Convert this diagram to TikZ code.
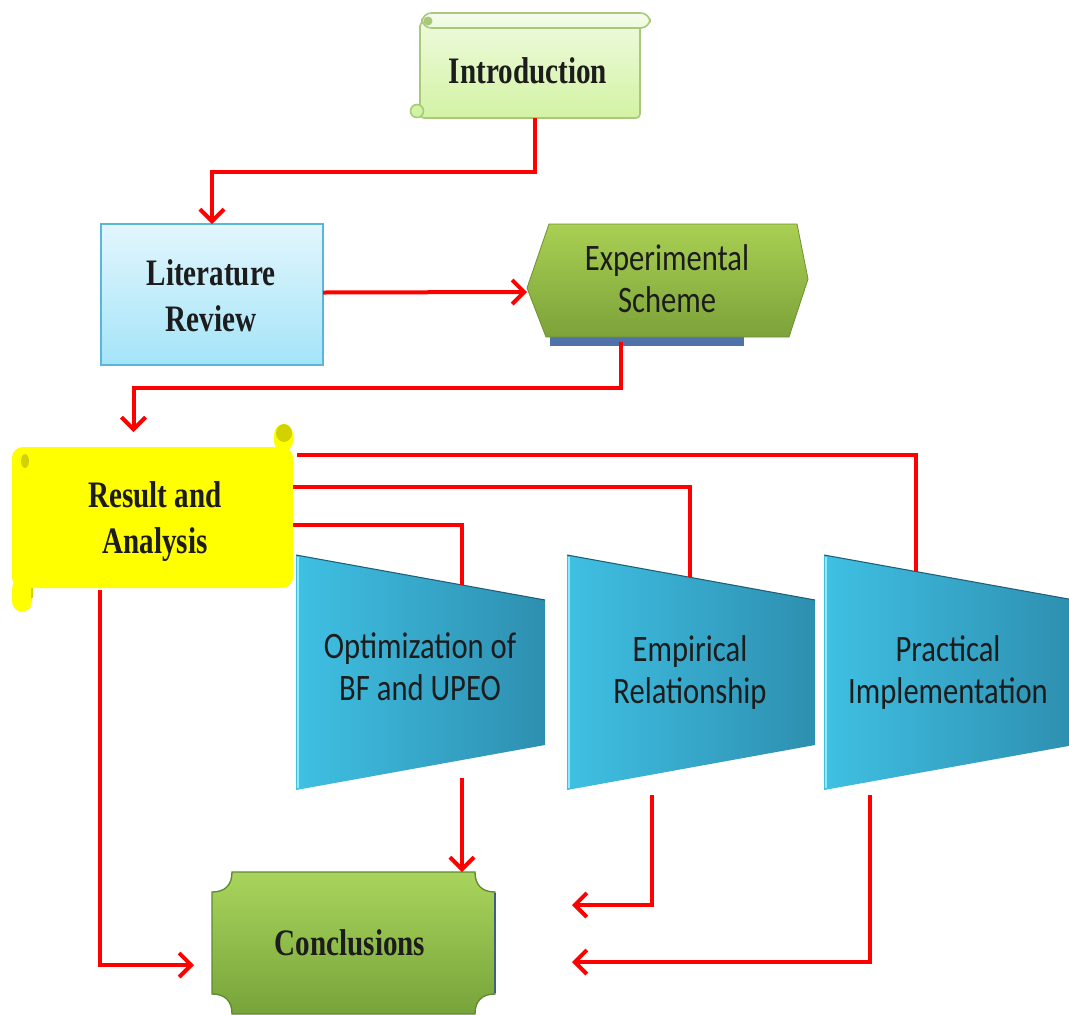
\documentclass[tikz,border=0pt]{standalone}
\usepackage{fontspec}
\usepackage{graphicx}
\usetikzlibrary{arrows.meta,calc,fit}
\newfontfamily\serfont{Liberation Serif}
\newfontfamily\sanfont{Carlito}
\newcommand\stxt[2]{\scalebox{#1}[1]{\begin{tabular}{@{}c@{}}#2\end{tabular}}}
\definecolor{txt}{HTML}{1C1C1C}
\definecolor{inT}{HTML}{EDFADB}
\definecolor{inB}{HTML}{D3F3A4}
\definecolor{inD}{HTML}{A9C97A}
\definecolor{ltT}{HTML}{E2F6FD}
\definecolor{ltB}{HTML}{A4E4F8}
\definecolor{ltD}{HTML}{5AB6D9}
\definecolor{exT}{HTML}{A9D052}
\definecolor{exB}{HTML}{7CA23A}
\definecolor{exD}{HTML}{6E8F33}
\definecolor{exS}{HTML}{4F72A8}
\definecolor{resY}{HTML}{FFFF00}
\definecolor{resD}{HTML}{D2D200}
\definecolor{trL}{HTML}{3FC0E3}
\definecolor{trR}{HTML}{2E8FB0}
\definecolor{trHi}{HTML}{8FE9FF}
\definecolor{trDk}{HTML}{1F5F75}
\definecolor{coT}{HTML}{A9D45C}
\definecolor{coB}{HTML}{77A43A}
\definecolor{coD}{HTML}{5F8A30}
\definecolor{coE}{HTML}{3F5F80}
\begin{document}
\begin{tikzpicture}[x=0.75pt,y=-0.75pt,
  box/.style={inner sep=0pt,outer sep=0pt},
  sert/.style={font=\serfont\bfseries\fontsize{28}{35}\selectfont,text=txt,inner sep=0pt},
  sant/.style={font=\sanfont\fontsize{28}{31.5}\selectfont,text=txt,inner sep=0pt},
  link/.style={draw=red,line width=3pt,line join=miter},
  arr/.style={link,-{Straight Barb[length=9pt,width=18pt]}},
  trap/.style={left color=trL,right color=trR}]
\path[use as bounding box,clip] (0,0) rectangle (1069,1014);
\fill[white] (0,0) rectangle (1069,1014);

% ---- layout nodes
\node[box,fit={(420,13)(650,118)}] (intro) {};
\node[box,fit={(101,224)(323,365)}] (lit) {};
\node[box,fit={(527,224)(808,342)}] (exp) {};
\node[box,fit={(12,432)(293,610)}] (res) {};
\node[box,fit={(296,555)(545,790)}] (trA) {};
\node[box,fit={(567,555)(815,790)}] (trB) {};
\node[box,fit={(824,555)(1069,790)}] (trC) {};
\node[box,fit={(212,872)(495,1014)}] (concl) {};

% ---- Introduction scroll
\shade[top color=inT,bottom color=inB,draw=inD,line width=1.2pt,rounded corners=3] (420,22) rectangle (640,118);
\shade[top color=white!50!inT,bottom color=inT,draw=inD,line width=1.2pt,rounded corners=7] (422,13) rectangle (650,28);
\fill[inD] (428,21) circle (4.5);
\filldraw[fill=inB,draw=inD,line width=1.2pt] (417,111) circle (6.5);

% ---- Literature Review
\shade[top color=ltT,bottom color=ltB,draw=ltD,line width=1.2pt] (101,224) rectangle (323,365);

% ---- Experimental Scheme
\fill[exS] (550,328) rectangle (744,346);
\shade[top color=exT,bottom color=exB,draw=exD,line width=0.6pt] (527,288) -- (549,224) -- (797,224) -- (808,279) -- (789,337) -- (546,337) -- cycle;

% ---- Result and Analysis scroll
\fill[resY,rounded corners=8] (12,447) rectangle (293,588);
\fill[resY,rounded corners=8] (274,424) rectangle (293,452);
\fill[resD] (284,433) ellipse (8 and 9);
\fill[resY,rounded corners=8] (12,578) rectangle (32,612);
\draw[resD,line width=1pt] (32,588) -- (32,598);
\fill[resD] (25,461) ellipse (4 and 7);

% ---- trapezoids
\shade[trap] (296,555) -- (545,600) -- (545,745) -- (296,790) -- cycle;
\draw[trHi,line width=1.5pt] (297.5,557) -- (297.5,788);
\draw[trDk,line width=0.8pt] (296,555) -- (545,600);
\shade[trap] (567,555) -- (815,600) -- (815,745) -- (567,790) -- cycle;
\draw[trHi,line width=1.5pt] (568.5,557) -- (568.5,788);
\draw[trDk,line width=0.8pt] (567,555) -- (815,600);
\shade[trap] (824,555) -- (1074,600) -- (1074,745) -- (824,790) -- cycle;
\draw[trHi,line width=1.5pt] (825.5,557) -- (825.5,788);
\draw[trDk,line width=0.8pt] (824,555) -- (1074,600);

% ---- Conclusions
\shade[top color=coT,bottom color=coB,draw=coD,line width=1pt]
  (232,872) -- (475,872) .. controls (475,885) and (482,892) .. (495,892)
  -- (495,994) .. controls (482,994) and (475,1001) .. (475,1014)
  -- (232,1014) .. controls (232,1001) and (225,994) .. (212,994)
  -- (212,892) .. controls (225,892) and (232,885) .. (232,872) -- cycle;
\draw[coE,line width=1.5pt] (495,893) -- (495,993);

% ---- texts
\node[sert] (intro-t) at (528,74) {\stxt{0.78}{Introduction}};
\node[sert] (lit-t) at (211,299) {\stxt{0.78}{Literature\\Review}};
\node[sant] (exp-t) at (667,283) {\stxt{0.82}{Experimental\\Scheme}};
\node[sert] (res-t) at (155,521) {\stxt{0.78}{Result and\\Analysis}};
\node[sant] (trA-t) at (420,671) {\stxt{0.82}{Optimization of\\BF and UPEO}};
\node[sant] (trB-t) at (690,674) {\stxt{0.82}{Empirical\\Relationship}};
\node[sant] (trC-t) at (948,674) {\stxt{0.82}{Practical\\Implementation}};
\node[sert] (concl-t) at (350,946) {\stxt{0.78}{Conclusions}};

% ---- connector end points on the trapezoids
\coordinate (tAin) at (462,585);
\coordinate (tBin) at (690,577);
\coordinate (tCin) at (916,572);
\coordinate (tAout) at (462,778);
\coordinate (tBout) at (652,795);
\coordinate (tCout) at (870,795);

% ---- connectors
\draw[arr] (intro.south) -- ++(0,54) -| (lit.north);
\draw[arr] ($(lit.east)+(0,-2)$) -- ($(exp.west)+(0,9)$);
\draw[arr] ($(exp.south)+(-47,0)$) -- ++(0,46) -| ($(res.north)+(-19,0)$);
\draw[link] ($(res.north east)+(4,23)$) -| (tCin);
\draw[link] ($(res.north east)+(0,55)$) -| (tBin);
\draw[link] ($(res.north east)+(0,93)$) -| (tAin);
\draw[arr] ($(res.south west)+(88,-20)$) |- ($(concl.west)+(-18,22)$);
\draw[arr] (tAout) -- (tAout |- concl.north);
\draw[arr] (tBout) |- ($(concl.east)+(77,-38)$);
\draw[arr] (tCout) |- ($(concl.east)+(77,19)$);
\end{tikzpicture}
\end{document}
